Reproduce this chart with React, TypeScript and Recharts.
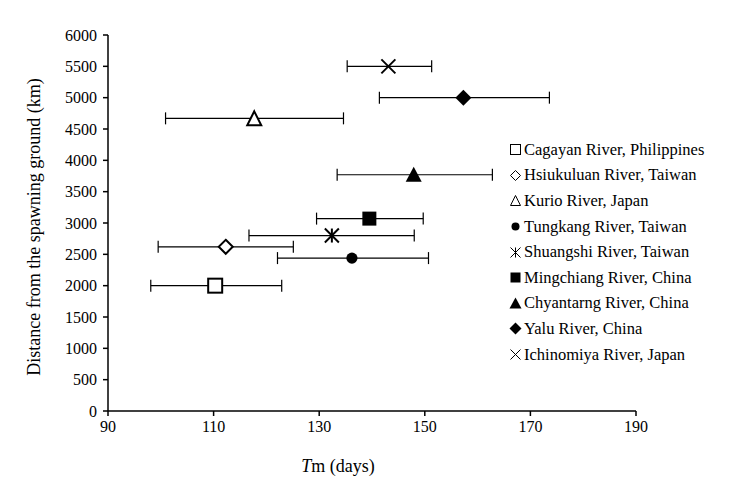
import React from 'react';
import { ScatterChart, Scatter, XAxis, YAxis, ErrorBar } from 'recharts';

const SERIES_NAMES = [
  'Cagayan River, Philippines',
  'Hsiukuluan River, Taiwan',
  'Kurio River, Japan',
  'Tungkang River, Taiwan',
  'Shuangshi River, Taiwan',
  'Mingchiang River, China',
  'Chyantarng River, China',
  'Yalu River, China',
  'Ichinomiya River, Japan',
];
const SERIES_MARKERS = [
  'openSquare', 'openDiamond', 'openTriangle', 'circle', 'asterisk',
  'square', 'triangle', 'diamond', 'cross',
];
const TM_DAYS = [110.3, 112.3, 117.7, 136.2, 132.4, 139.5, 147.9, 157.3, 143.1];
const TM_LOW = [98.1, 99.5, 100.9, 122.1, 116.7, 129.5, 133.4, 141.4, 135.3];
const TM_HIGH = [122.9, 125.1, 134.6, 150.7, 148.0, 149.7, 162.8, 173.6, 151.3];
const DISTANCE_KM = [2000, 2620, 4670, 2440, 2800, 3070, 3770, 5000, 5500];

const X_TICKS = [90, 110, 130, 150, 170, 190];
const Y_TICKS = [0, 500, 1000, 1500, 2000, 2500, 3000, 3500, 4000, 4500, 5000, 5500, 6000];

const FONT = '"Liberation Serif", "Times New Roman", serif';

const series = SERIES_NAMES.map((name, i) => ({
  name,
  marker: SERIES_MARKERS[i],
  data: [{
    x: TM_DAYS[i],
    y: DISTANCE_KM[i],
    err: [TM_DAYS[i] - TM_LOW[i], TM_HIGH[i] - TM_DAYS[i]],
  }],
}));

// draws one marker centred on cx, cy
const Marker = ({ kind, cx, cy, s }: { kind: string; cx: number; cy: number; s: number }) => {
  const h = s / 2;
  const sw = s > 10 ? 2 : 1;
  switch (kind) {
    case 'openSquare':
      return <rect x={cx - h} y={cy - h} width={s} height={s} fill="#fff" stroke="#000" strokeWidth={sw} />;
    case 'square':
      return <rect x={cx - h} y={cy - h} width={s} height={s} fill="#000" />;
    case 'openDiamond':
      return <polygon points={`${cx},${cy - h} ${cx + h},${cy} ${cx},${cy + h} ${cx - h},${cy}`} fill="#fff" stroke="#000" strokeWidth={sw} />;
    case 'diamond':
      return <polygon points={`${cx},${cy - h - 1} ${cx + h + 1},${cy} ${cx},${cy + h + 1} ${cx - h - 1},${cy}`} fill="#000" />;
    case 'openTriangle':
      return <polygon points={`${cx},${cy - h} ${cx + h},${cy + h} ${cx - h},${cy + h}`} fill="#fff" stroke="#000" strokeWidth={sw} />;
    case 'triangle':
      return <polygon points={`${cx},${cy - h - 1} ${cx + h + 1},${cy + h} ${cx - h - 1},${cy + h}`} fill="#000" />;
    case 'circle':
      return <circle cx={cx} cy={cy} r={h * 0.8} fill="#000" />;
    case 'asterisk':
      return (
        <g stroke="#000" strokeWidth={sw}>
          <line x1={cx - h} y1={cy - h} x2={cx + h} y2={cy + h} />
          <line x1={cx - h} y1={cy + h} x2={cx + h} y2={cy - h} />
          <line x1={cx} y1={cy - h} x2={cx} y2={cy + h} />
        </g>
      );
    case 'cross':
    default:
      return (
        <g stroke="#000" strokeWidth={sw}>
          <line x1={cx - h} y1={cy - h} x2={cx + h} y2={cy + h} />
          <line x1={cx - h} y1={cy + h} x2={cx + h} y2={cy - h} />
        </g>
      );
  }
};

const LegendBox = () => (
  <div style={{ position: 'absolute', left: 509, top: 137, fontFamily: FONT, fontSize: 16.5, color: '#000' }}>
    {series.map((s) => (
      <div key={s.name} style={{ display: 'flex', alignItems: 'center', height: 25.6 }}>
        <svg width={13} height={13} style={{ marginRight: 2 }}>
          <Marker kind={s.marker} cx={6.5} cy={6.5} s={10} />
        </svg>
        <span>{s.name}</span>
      </div>
    ))}
  </div>
);

const axisTick = { fontSize: 16, fontFamily: FONT, fill: '#000' };

export default function App() {
  return (
    <div style={{ position: 'absolute', left: 0, top: 0, width: 734, height: 490, background: '#fff' }}>
      <ScatterChart width={734} height={490} margin={{ top: 35, right: 98, left: 48, bottom: 49 }}>
        <XAxis
          type="number"
          dataKey="x"
          domain={[90, 190]}
          ticks={X_TICKS}
          tick={axisTick}
          tickSize={5}
          tickMargin={5}
          height={30}
          axisLine={{ stroke: '#000', strokeWidth: 1.5 }}
          tickLine={{ stroke: '#000', strokeWidth: 1.5 }}
          label={{
            content: () => (
              <text x={338} y={472} textAnchor="middle" fontFamily={FONT} fontSize={18} fill="#000">
                <tspan fontStyle="italic">T</tspan>
                <tspan>m (days)</tspan>
              </text>
            ),
          }}
        />
        <YAxis
          type="number"
          dataKey="y"
          domain={[0, 6000]}
          ticks={Y_TICKS}
          tick={axisTick}
          tickSize={5}
          tickMargin={6}
          width={60}
          axisLine={{ stroke: '#000', strokeWidth: 1.5 }}
          tickLine={{ stroke: '#000', strokeWidth: 1.5 }}
          label={{
            content: () => (
              <text x={40} y={227} transform="rotate(-90 40 227)" textAnchor="middle" fontFamily={FONT} fontSize={18} fill="#000">
                Distance from the spawning ground (km)
              </text>
            ),
          }}
        />
        {series.map((s) => (
          <Scatter
            key={s.name}
            name={s.name}
            data={s.data}
            isAnimationActive={false}
            shape={(p: any) => <Marker kind={s.marker} cx={p.cx} cy={p.cy} s={14} />}
          >
            <ErrorBar dataKey="err" direction="x" width={6} stroke="#000" strokeWidth={1.2} />
          </Scatter>
        ))}
      </ScatterChart>
      <LegendBox />
    </div>
  );
}
